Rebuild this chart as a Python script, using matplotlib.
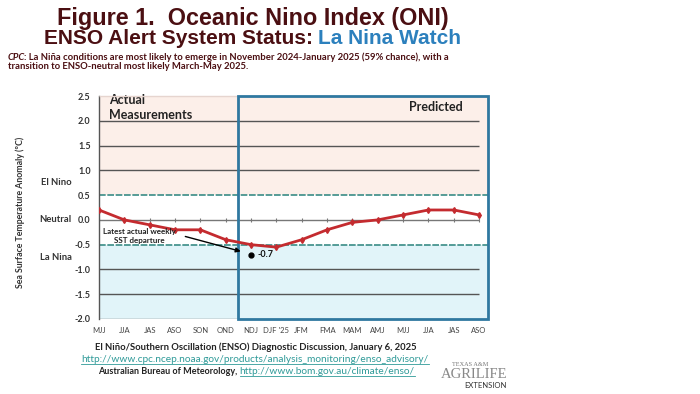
import matplotlib
matplotlib.use("Agg")
import matplotlib.pyplot as plt
from matplotlib.patches import Rectangle

# season labels on the x axis (3-month running means)
seasons = ["MJJ", "JJA", "JAS", "ASO", "SON", "OND", "NDJ", "DJF '25", "JFM",
           "FMA", "MAM", "AMJ", "MJJ", "JJA", "JAS", "ASO"]
# ONI values, actual then predicted (same red line in the original)
oni = [0.2, 0.0, -0.1, -0.2, -0.2, -0.4, -0.5, -0.55, -0.4,
       -0.2, -0.05, 0.0, 0.1, 0.2, 0.2, 0.1]
n_actual = 6                      # MJJ .. OND are measured
weekly_sst = -0.7                 # latest actual weekly SST departure
weekly_idx = 6                    # plotted at NDJ
y_ticks = [2.5, 2.0, 1.5, 1.0, 0.5, 0.0, -0.5, -1.0, -1.5, -2.0]
grid_levels = [2.0, 1.5, 1.0, -1.0, -1.5]
threshold = 0.5
state_labels = ["El Nino", "Neutral", "La Nina"]
state_levels = [0.75, 0.0, -0.75]

MAROON = "#4b0f12"
BLUE = "#2c80bd"
BOX = "#2f78a0"
TEAL = "#3a8c86"
RED = "#c42b2f"
PINK = "#fcefe9"
LBLUE = "#e1f4f9"
TXT = "#333333"
LINK = "#2e9a98"

plt.rcParams["font.family"] = ["Lato", "DejaVu Sans"]

W, H = 700, 394
fig = plt.figure(figsize=(7, 3.94), dpi=100)
fig.patch.set_facecolor("white")


def fx(px):
    return px / W


def fy(py):
    return 1 - py / H


# axes: x = 0 sits on the left spine, right edge is the blue box
ax = fig.add_axes([fx(99), fy(319), fx(488) - fx(99), fy(96) - fy(319)])
xmax = 15.35
ax.set_xlim(0, xmax)
ax.set_ylim(-2.0, 2.5)
ax.set_facecolor("white")

# shaded El Nino / La Nina regions
ax.axhspan(threshold, 2.5, color=PINK, zorder=0, lw=0)
ax.axhspan(-2.0, -threshold, color=LBLUE, zorder=0, lw=0)

# gridlines
ax.hlines(grid_levels, 0, len(seasons) - 1, color="#555555", lw=1.0, zorder=1)
ax.hlines([threshold, -threshold], 0, xmax, color=TEAL, lw=1.2,
          linestyles=(0, (4, 1)), zorder=1)
ax.hlines(0, 0, len(seasons) - 1, color="#777777", lw=1.0, zorder=1)
xs = list(range(len(seasons)))
ax.vlines(xs, -0.04, 0.04, color="#777777", lw=0.8, zorder=1)

# predicted box
ax.add_patch(Rectangle((n_actual - 0.5, -2.0), xmax - (n_actual - 0.5), 4.5,
                       fill=False, edgecolor=BOX, lw=2.0, zorder=4, clip_on=False))

# ONI line
ax.plot(xs, oni, color=RED, lw=2.0, marker="d", ms=3, zorder=5)

# weekly SST point
ax.plot([weekly_idx], [weekly_sst], "o", color="black", ms=3.5, zorder=6)
ax.text(weekly_idx + 0.25, weekly_sst, f"{weekly_sst:.1f}", fontsize=6.5,
        fontweight="bold", va="center", ha="left", color="#111111", zorder=6)
ax.annotate("", xy=(weekly_idx - 0.3, weekly_sst + 0.05), xytext=(3.3, -0.32),
            arrowprops=dict(arrowstyle="-|>", color="black", lw=1.0,
                            mutation_scale=7), zorder=6)
ax.text(1.6, -0.33, "Latest actual weekly\nSST departure", fontsize=5.8,
        fontweight="bold", ha="center", va="center", color="#222222",
        linespacing=1.3, zorder=6)

# section captions
ax.text(0.38, 2.27, "Actual\nMeasurements", fontsize=9, fontweight="bold",
        color="#222222", ha="left", va="center", linespacing=1.35)
ax.text(14.35, 2.27, "Predicted", fontsize=9, fontweight="bold",
        color="#222222", ha="right", va="center")

# axes styling
for side in ["top", "right", "bottom"]:
    ax.spines[side].set_visible(False)
ax.spines["left"].set_color("#555555")
ax.spines["left"].set_linewidth(1.0)
ax.hlines(-2.0, 0, n_actual - 0.5, color="#777777", lw=1.0, zorder=3)
ax.hlines(2.5, 0, n_actual - 0.5, color="#e6d5cf", lw=1.0, zorder=3,
          clip_on=False)
ax.set_yticks(y_ticks)
ax.set_yticklabels([f"{v:.1f}" for v in y_ticks], fontsize=6.5,
                   fontweight="bold", color=TXT)
ax.set_xticks(xs)
ax.set_xticklabels(seasons, fontsize=5.5, color="#444444")
ax.tick_params(axis="both", length=0)
ax.tick_params(axis="y", pad=6)
ax.tick_params(axis="x", pad=6)

for lab, lev in zip(state_labels, state_levels):
    ax.text(-1.08, lev, lab, fontsize=6.8, fontweight="bold", color=TXT,
            ha="right", va="center", clip_on=False)

fig.text(fx(20), fy(212), "Sea Surface Temperature Anomaly (ºC)", rotation=90,
         fontsize=6.3, fontweight="bold", color=TXT, ha="center", va="center")

# header
hfont = ["Liberation Sans", "DejaVu Sans"]
fig.text(fx(253), fy(18), "Figure 1.  Oceanic Nino Index (ONI)", fontsize=16.8,
         fontweight="bold", color=MAROON, ha="center", va="center", family=hfont)
fig.text(fx(313), fy(38.5), "ENSO Alert System Status:", fontsize=15,
         fontweight="bold", color=MAROON, ha="right", va="center", family=hfont)
fig.text(fx(318), fy(38.5), "La Nina Watch", fontsize=15,
         fontweight="bold", color=BLUE, ha="left", va="center", family=hfont)

cpc = fig.text(fx(8), fy(57.5), "CPC", fontsize=6.85, style="italic",
               fontweight="bold", color=MAROON, ha="left", va="center")
fig.canvas.draw()
bb = cpc.get_window_extent()
fig.text(bb.x1 / W - 0.002, fy(57.5),
         ": La Niña conditions are most likely to emerge in November 2024-January 2025 "
         "(59% chance), with a", fontsize=6.85, fontweight="bold", color=MAROON,
         ha="left", va="center")
fig.text(fx(8), fy(66.5), "transition to ENSO-neutral most likely March-May 2025.",
         fontsize=6.85, fontweight="bold", color=MAROON, ha="left", va="center")

# footer
fig.text(fx(256), fy(347.5),
         "El Niño/Southern Oscillation (ENSO) Diagnostic Discussion, January 6, 2025",
         fontsize=6.8, fontweight="bold", color="#222222", ha="center", va="center")
links = []
links.append(fig.text(fx(255), fy(360),
                      "http://www.cpc.ncep.noaa.gov/products/analysis_monitoring/enso_advisory/",
                      fontsize=7.25, color=LINK, ha="center", va="center"))
aus = fig.text(fx(98), fy(372), "Australian Bureau of Meteorology, ", fontsize=6.5,
               fontweight="bold", color="#222222", ha="left", va="center")
fig.canvas.draw()
bb = aus.get_window_extent()
links.append(fig.text(bb.x1 / W, fy(372), "http://www.bom.gov.au/climate/enso/",
                      fontsize=7.25, color=LINK, ha="left", va="center"))
fig.canvas.draw()
for t in links:
    b = t.get_window_extent()
    fig.add_artist(plt.Line2D([b.x0 / W, b.x1 / W], [b.y0 / H + 0.002] * 2,
                              color=LINK, lw=0.6))

# logo
fig.text(fx(452), fy(364), "TEXAS A&M", fontsize=4.5, color="#777777",
         ha="left", va="center", family=["Liberation Serif", "DejaVu Serif"])
fig.text(fx(441), fy(375), "AGRILIFE", fontsize=10.5, color="#888888",
         ha="left", va="center", family=["Liberation Serif", "DejaVu Serif"])
fig.text(fx(507), fy(386), "EXTENSION", fontsize=5.5, color="#333333",
         ha="right", va="center")

fig.savefig("out.png", dpi=100, facecolor="white")
